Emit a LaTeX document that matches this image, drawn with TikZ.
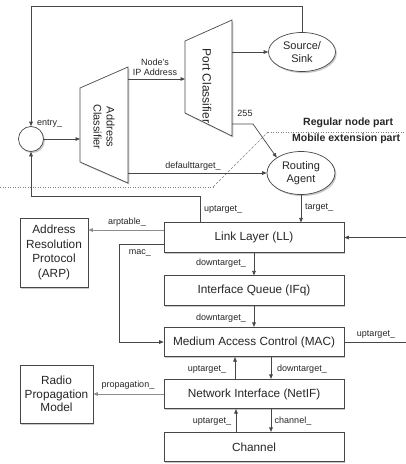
\documentclass[tikz,border=0pt]{standalone}
\usepackage{fontspec}
\setmainfont{Liberation Sans}
\usetikzlibrary{shapes.geometric,arrows.meta,shadows,calc}
\begin{document}
\begin{tikzpicture}[x=1pt,y=-1pt,
  line/.style={draw=black!72, line width=0.7pt},
  arr/.style={line, -{Triangle[length=4.5pt,width=3.6pt]}},
  garr/.style={draw=black!45, line width=0.7pt, -{Triangle[length=4.5pt,width=3.6pt]}},
  boxshadow/.style={drop shadow={shadow xshift=1.4pt, shadow yshift=-1.6pt, opacity=0.35, fill=black!60}},
  stackbox/.style={rectangle, draw=black!72, line width=0.7pt, fill=white, boxshadow,
    minimum width=180pt, minimum height=29.5pt, inner sep=0pt, text=black!85,
    font=\fontsize{11.8}{13}\selectfont},
  sidebox/.style={rectangle, draw=black!72, line width=0.7pt, fill=white, boxshadow,
    inner sep=0pt, align=center, text=black!85},
  oval/.style={ellipse, draw=black!72, line width=0.7pt, fill=white, boxshadow,
    inner sep=0pt, align=center, text=black!85, font=\fontsize{11}{13.5}\selectfont},
  trap/.style={draw=black!72, line width=0.7pt, fill=white, boxshadow},
  lbl/.style={font=\fontsize{9}{10}\selectfont, text=black!85, inner sep=0pt},
  partlbl/.style={font=\fontsize{10.5}{12}\selectfont\bfseries, text=black!85, inner sep=0pt, anchor=west},
  dotline/.style={draw=black!50, line width=0.8pt, dash pattern=on 1.2pt off 1.3pt},
  dashline/.style={draw=black!50, line width=0.6pt, dash pattern=on 2.6pt off 1.6pt},
]
\useasboundingbox[fill=white] (0,0) rectangle (406,464);

% boundary between the regular node and the mobile extension
\draw[dotline] (0,187) -- (213,187);
\draw[dashline] (213,187) -- (268,132);
\draw[dotline] (268,132) -- (410,132);
\node[partlbl] (reg) at (303,123) {Regular node part};
\node[partlbl] (mob) at (292,139) {Mobile extension part};

% classifiers
\draw[trap] (80,88) -- (128,67) -- (128,183) -- (80,162) -- cycle;
\node[rotate=-90, align=center, text=black!85, font=\fontsize{11}{13}\selectfont] (AC) at (104,127) {Address\\Classifier};
\draw[trap] (185,41) -- (232,20) -- (232,136) -- (185,113) -- cycle;
\node[rotate=-90, text=black!85, font=\fontsize{12}{14}\selectfont] (PC) at (207,86) {Port Classifier};

\coordinate (acIn) at (80,139);
\coordinate (acIP) at (128,79);
\coordinate (acDef) at (128,173);
\coordinate (pcIP) at (185,79);
\coordinate (pcSS) at (232,52);
\coordinate (pcBc) at (232,124);
\coordinate (bcBend) at (253,124);
\coordinate (loopTop) at (31,6);
\coordinate (offLL) at (410,237.5);
\coordinate (offMAC) at (410,342);

% entry point and agents
\node[circle, draw=black!72, line width=0.7pt, fill=white, boxshadow, minimum size=25pt, inner sep=0pt] (entry) at (31,139) {};
\node[oval, minimum width=67pt, minimum height=39pt] (SS) at (302,52) {Source/\\Sink};
\node[oval, minimum width=68pt, minimum height=43pt] (RA) at (301,173) {Routing\\Agent};

% protocol stack
\node[stackbox] (LL) at (254,237.5) {Link Layer (LL)};
\node[stackbox] (IFq) at (254,290.5) {Interface Queue (IFq)};
\node[stackbox] (MAC) at (254,342) {Medium Access Control (MAC)};
\node[stackbox] (NetIF) at (254,394) {Network Interface (NetIF)};
\node[stackbox] (Chan) at (254,447) {Channel};

\node[sidebox, minimum width=68pt, minimum height=69pt, font=\fontsize{11.8}{14.5}\selectfont] (ARP) at (54,252.5) {Address\\Resolution\\Protocol\\(ARP)};
\node[sidebox, minimum width=73pt, minimum height=58pt, font=\fontsize{11.8}{13.4}\selectfont] (RPM) at (56.5,394) {Radio\\Propagation\\Model};

% connectors
\draw[arr] (SS.north) |- (loopTop) -- (entry.north);
\node[lbl, anchor=west] at (37,124) {entry\_};
\draw[arr] (entry.east) -- (acIn);
\draw[arr] (acIP) -- (pcIP);
\node[lbl, align=center] at (155,67) {Node's\\IP Address};
\draw[arr] (pcSS) -- (SS.west);
\draw[arr] (pcBc) -- (bcBend) -- (RA.north west);
\node[lbl] at (245,113) {255};
\draw[arr] (acDef) -- (RA.west);
\node[lbl] at (193,166) {defaulttarget\_};
\draw[arr] (RA.south) -- (RA.south |- LL.north);
\node[lbl, anchor=west] at (305,208) {target\_};
\draw[arr] ([xshift=-54pt]LL.north) -- ++(0,-26) -| (entry.south);
\node[lbl, anchor=west] at (204,210) {uptarget\_};

\draw[garr] ([yshift=7.5pt]LL.west) -- ([yshift=7.5pt]LL.west -| ARP.east);
\node[lbl] at (127,222) {arptable\_};
\draw[arr] ([yshift=-6.5pt]LL.west) -- ++(-44,0) |- (MAC.west);
\node[lbl] at (140,253) {mac\_};

\draw[arr] (LL.south) -- (IFq.north);
\node[lbl] at (221,263.5) {downtarget\_};
\draw[arr] (IFq.south) -- (MAC.north);
\node[lbl] at (221,318.5) {downtarget\_};

\draw[arr] ([xshift=-19pt]NetIF.north) -- ([xshift=-19pt]MAC.south);
\node[lbl] at (207,369.5) {uptarget\_};
\draw[arr] ([xshift=17pt]MAC.south) -- ([xshift=17pt]NetIF.north);
\node[lbl] at (302,369.5) {downtarget\_};

\draw[arr] ([xshift=-18pt]Chan.north) -- ([xshift=-18pt]NetIF.south);
\node[lbl] at (212,421.5) {uptarget\_};
\draw[arr] ([xshift=17pt]NetIF.south) -- ([xshift=17pt]Chan.north);
\node[lbl] at (293,421.5) {channel\_};

\draw[line] (MAC.east) -- (offMAC);
\node[lbl] at (376,335) {uptarget\_};
\draw[arr] (offLL) -- (LL.east);

\draw[garr] (NetIF.west) -- (RPM.east);
\node[lbl] at (128,385) {propagation\_};
\end{tikzpicture}
\end{document}
